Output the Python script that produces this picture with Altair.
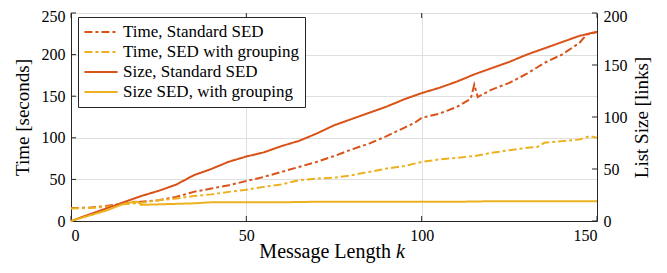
import altair as alt
import pandas as pd

# ---- data ----
k_time_std = [0, 5, 10, 15, 20, 25, 30, 35, 40, 45, 50, 55, 60, 65, 70, 75, 80, 85, 90, 95,
              98, 100, 105, 110, 114, 115, 116, 120, 125, 130, 135, 140, 145, 147, 150]
time_std = [15.5, 16, 18, 21, 23, 25, 29, 35, 39, 43, 48, 53, 59, 65, 71, 78, 86, 93, 102, 112,
            118, 124, 129, 137, 147, 164, 149, 158, 166, 177, 190, 200, 214, 224, 227]

k_time_grp = [0, 5, 10, 15, 20, 25, 30, 35, 40, 45, 50, 55, 60, 65, 70, 75, 80, 85, 90, 95,
              100, 105, 110, 115, 120, 125, 130, 133, 135, 140, 145, 148, 150]
time_grp = [15, 15.5, 17, 20, 22, 25, 27, 30, 32, 35, 37.5, 41, 44, 49, 51, 52, 55, 59, 63, 66,
            71, 74, 76, 78, 82, 85, 88, 89, 94, 96, 98, 102, 100]

k_size_std = [0, 5, 10, 15, 20, 25, 30, 35, 40, 45, 50, 55, 60, 65, 70, 75, 80, 85, 90, 95,
              100, 105, 110, 115, 120, 125, 130, 135, 140, 145, 150]
size_std = [0, 6, 12, 18, 24, 29, 35, 44, 50, 57, 62, 66, 72, 77, 84, 92, 98, 104, 110, 117,
            123, 128, 134, 141, 147, 153, 160, 166, 172, 178, 182]

k_size_grp = [0, 5, 10, 15, 18, 19, 20, 25, 30, 35, 40, 50, 60, 70, 80, 90, 100, 110, 120, 130, 140, 150]
size_grp = [0, 5, 10, 16.5, 18.5, 18.5, 15.5, 16, 16.5, 17, 18, 18, 18, 18.5, 18.5, 18.5, 18.5, 18.5,
            19, 19, 19, 19]

series_names = ["Time, Standard SED", "Time, SED with grouping",
                "Size, Standard SED", "Size SED, with grouping"]
series_colors = ["#D95319", "#EDB120", "#D95319", "#EDB120"]
series_dash = [[8, 3, 3, 3], [8, 3, 3, 3], [1, 0], [1, 0]]

x_ticks = [0, 50, 100, 150]
left_ticks = [0, 50, 100, 150, 200, 250]
right_ticks = [0, 50, 100, 150, 200]

# ---- tables ----
time_df = pd.concat([
    pd.DataFrame({"k": k_time_std, "value": time_std, "series": series_names[0]}),
    pd.DataFrame({"k": k_time_grp, "value": time_grp, "series": series_names[1]}),
])
size_df = pd.concat([
    pd.DataFrame({"k": k_size_std, "value": size_std, "series": series_names[2]}),
    pd.DataFrame({"k": k_size_grp, "value": size_grp, "series": series_names[3]}),
])

W, H = 526, 208
FONT = "'Liberation Serif', 'DejaVu Serif', serif"
AX = "#262626"

xscale = alt.Scale(domain=[0, 150], nice=False)


def make_legend():
    return alt.Legend(title=None, orient="none", legendX=7, legendY=4,
                      symbolType="stroke", symbolSize=1100, symbolStrokeWidth=2,
                      labelFont=FONT, labelFontSize=17, labelColor="#000",
                      fillColor="white", strokeColor=AX, padding=5,
                      rowPadding=0, clipHeight=20, labelLimit=400, cornerRadius=0)


color = alt.Color("series:N", scale=alt.Scale(domain=series_names, range=series_colors),
                  legend=make_legend())
dash = alt.StrokeDash("series:N", scale=alt.Scale(domain=series_names, range=series_dash),
                      legend=make_legend())

xaxis = alt.Axis(values=x_ticks, title=None, grid=True, gridColor="#DFDFDF", ticks=False,
                 labelPadding=6, domainColor=AX)

time_lines = alt.Chart(time_df).mark_line(strokeWidth=2).encode(
    x=alt.X("k:Q", scale=xscale, axis=xaxis),
    y=alt.Y("value:Q", scale=alt.Scale(domain=[0, 250], nice=False),
            axis=alt.Axis(values=left_ticks, title="Time [seconds]", grid=True, gridColor="#DFDFDF",
                          ticks=False, labelPadding=6, titlePadding=9, domainColor=AX,
                          labelOffset={"condition": {"test": "datum.value == 250", "value": 3},
                                       "value": 0})),
    color=color, strokeDash=dash, detail="series:N",
)
left_tick_df = pd.DataFrame({"v": left_ticks})
left_tick_marks = alt.Chart(left_tick_df).mark_rule(color=AX, strokeWidth=1).encode(
    y="v:Q", x=alt.value(0), x2=alt.value(5))
xtick_df = pd.DataFrame({"k": x_ticks})
bottom_tick_marks = alt.Chart(xtick_df).mark_rule(color=AX, strokeWidth=1).encode(
    x=alt.X("k:Q", scale=xscale), y=alt.value(H - 5), y2=alt.value(H))
top_tick_marks = alt.Chart(xtick_df).mark_rule(color=AX, strokeWidth=1).encode(
    x=alt.X("k:Q", scale=xscale), y=alt.value(0), y2=alt.value(5))

title_df = pd.DataFrame({"a": [0]})
xtitle1 = alt.Chart(title_df).mark_text(font=FONT, fontSize=20, align="right", baseline="alphabetic",
                                        color="#000").encode(
    x=alt.value(320), y=alt.value(H + 37), text=alt.value("Message Length"))
xtitle2 = alt.Chart(title_df).mark_text(font=FONT, fontSize=20, fontStyle="italic", align="left",
                                        baseline="alphabetic", color="#000").encode(
    x=alt.value(325), y=alt.value(H + 37), text=alt.value("k"))

left = alt.layer(time_lines, left_tick_marks, bottom_tick_marks, top_tick_marks, xtitle1, xtitle2)

size_lines = alt.Chart(size_df).mark_line(strokeWidth=2).encode(
    x=alt.X("k:Q", scale=xscale),
    y=alt.Y("value:Q", scale=alt.Scale(domain=[0, 200], nice=False),
            axis=alt.Axis(values=right_ticks, orient="right", title="List Size [links]", grid=False,
                          ticks=False, labelPadding=6, titleAngle=270, titleX=44, titleY=H / 2,
                          titleAlign="center", titleBaseline="middle", domainColor=AX,
                          labelOffset={"condition": {"test": "datum.value == 200", "value": 3},
                                       "value": 0})),
    color=color, strokeDash=dash, detail="series:N",
)
right_tick_df = pd.DataFrame({"v": right_ticks})
right_tick_marks = alt.Chart(right_tick_df).mark_rule(color=AX, strokeWidth=1).encode(
    y="v:Q", x=alt.value(W - 5), x2=alt.value(W))

right = alt.layer(size_lines, right_tick_marks)

chart = alt.layer(left, right).resolve_scale(y="independent").properties(
    width=W, height=H,
    autosize=alt.AutoSizeParams(type="none"),
    padding={"left": 63, "top": 5, "right": 62, "bottom": 44},
).configure_view(stroke=AX, strokeWidth=1).configure_axis(
    labelFont=FONT, labelFontSize=16, labelColor="#000",
    titleFont=FONT, titleFontSize=19, titleColor="#000", titleFontWeight="normal",
)

chart.save("out.html", embed_options={"renderer": "svg", "actions": False})
